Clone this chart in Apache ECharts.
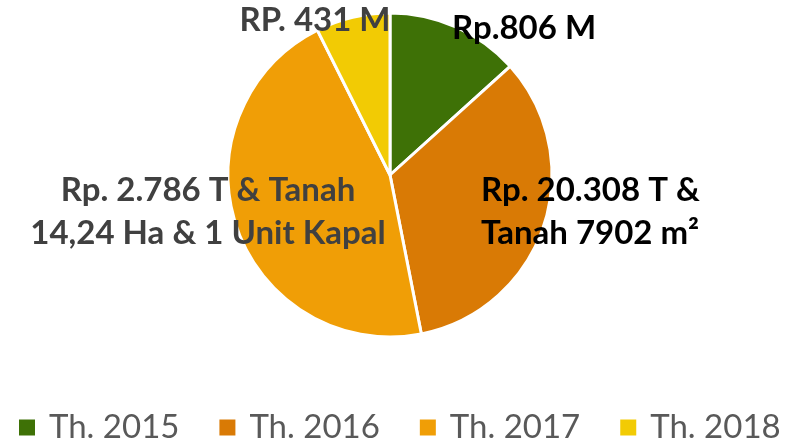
<!DOCTYPE html>
<html>
<head>
<meta charset="utf-8">
<script src="https://cdn.jsdelivr.net/npm/echarts@6/dist/echarts.min.js"></script>
<style>
  html, body { margin: 0; padding: 0; background: #fff; }
  #chart { width: 792px; height: 443px; }
</style>
</head>
<body>
<div id="chart"></div>
<script>
const categories = ['Th. 2015', 'Th. 2016', 'Th. 2017', 'Th. 2018'];
// slice shares (percent)
const shares = [13.3, 33.6, 45.7, 7.4];
const labelTexts = [
  'Rp.806 M',
  'Rp. 20.308 T &\nTanah 7902 m²',
  'Rp. 2.786 T & Tanah\n14,24 Ha & 1 Unit Kapal',
  'RP. 431 M'
];
const colors = ['#3E7106', '#D97A05', '#F09E06', '#F2CB04'];
const labelColors = ['#000', '#000', '#404040', '#404040'];

// where each label sits (x, y, align)
const labelSpots = [
  { x: 524, y: 28, align: 'center' },
  { x: 481, y: 212, align: 'left' },
  { x: 208, y: 212, align: 'center' },
  { x: 315, y: 20, align: 'center' }
];

const chart = echarts.init(document.getElementById('chart'));

chart.setOption({
  backgroundColor: '#fff',
  animation: false,
  legend: {
    top: 406,
    left: 12,
    itemWidth: 18,
    itemHeight: 18,
    itemGap: 38,
    icon: 'rect',
    textStyle: {
      fontFamily: 'Lato',
      fontSize: 33,
      color: '#595959',
      padding: [0, 0, 0, 8]
    },
    data: categories
  },
  series: [{
    type: 'pie',
    center: [390, 175],
    radius: 162,
    startAngle: 90,
    clockwise: true,
    avoidLabelOverlap: false,
    itemStyle: { borderColor: '#fff', borderWidth: 3 },
    label: {
      show: true,
      position: 'inside',
      fontFamily: 'Lato',
      fontWeight: 'bold',
      fontSize: 33,
      lineHeight: 43,
      formatter: (p) => labelTexts[p.dataIndex]
    },
    labelLine: { show: false },
    labelLayout: (params) => {
      const s = labelSpots[params.dataIndex];
      return { x: s.x, y: s.y, align: s.align, verticalAlign: 'middle' };
    },
    data: categories.map((name, i) => ({
      name,
      value: shares[i],
      itemStyle: { color: colors[i] },
      label: { color: labelColors[i], align: labelSpots[i].align }
    }))
  }]
});
</script>
</body>
</html>
